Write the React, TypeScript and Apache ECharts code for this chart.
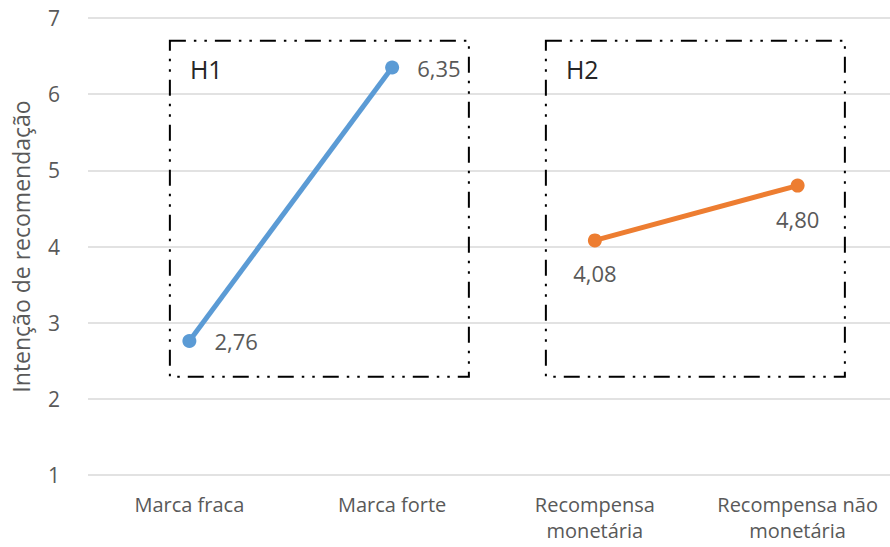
import React, { useEffect, useRef } from "react";
import * as echarts from "echarts";

const categories = ["Marca fraca", "Marca forte", "Recompensa\nmonetária", "Recompensa não\nmonetária"];
const h1Values = [2.76, 6.35, null, null];
const h2Values = [null, null, 4.08, 4.8];
const yTicks = { min: 1, max: 7, interval: 1 };
const axisTitle = "Intenção de recomendação";
const boxLabels = ["H1", "H2"];

const FONT = "'Open Sans', 'Noto Sans', sans-serif";
const GREY = "#595959";
const DASH = [16, 8, 2.5, 8, 2.5, 8];

export default function App() {
  const ref = useRef<HTMLDivElement>(null);
  useEffect(() => {
    const chart = echarts.init(ref.current!, null, { renderer: "svg" });
    const fmt = (p: any) => Number(p.value).toFixed(2).replace(".", ",");
    chart.setOption({
      animation: false,
      textStyle: { fontFamily: FONT },
      grid: { left: 88, top: 18, width: 811, height: 457, outerBoundsMode: "none", containLabel: false },
      xAxis: {
        type: "category",
        data: categories,
        boundaryGap: true,
        axisLine: { show: false },
        axisTick: { show: false },
        axisLabel: { color: GREY, fontSize: 20, fontFamily: FONT, margin: 16, lineHeight: 26, interval: 0 },
      },
      yAxis: {
        type: "value",
        min: yTicks.min,
        max: yTicks.max,
        interval: yTicks.interval,
        name: axisTitle,
        nameLocation: "middle",
        nameGap: 56,
        nameTextStyle: { color: GREY, fontSize: 23, fontFamily: FONT },
        axisLine: { show: false },
        axisTick: { show: false },
        axisLabel: { color: GREY, fontSize: 21, fontFamily: FONT, margin: 28 },
        splitLine: { lineStyle: { color: "#d9d9d9", width: 1.5 } },
      },
      series: [
        {
          type: "line",
          data: h1Values,
          connectNulls: false,
          symbol: "circle",
          symbolSize: 14,
          lineStyle: { color: "#5B9BD5", width: 5 },
          itemStyle: { color: "#5B9BD5" },
          label: { show: true, position: "right", distance: 18, color: GREY, fontSize: 22, fontFamily: FONT, formatter: fmt },
        },
        {
          type: "line",
          data: h2Values,
          connectNulls: false,
          symbol: "circle",
          symbolSize: 14,
          lineStyle: { color: "#ED7D31", width: 5 },
          itemStyle: { color: "#ED7D31" },
          label: { show: true, position: "bottom", distance: 15, color: GREY, fontSize: 22, fontFamily: FONT, formatter: fmt },
        },
      ],
    });
    const yTop = chart.convertToPixel({ yAxisIndex: 0 }, 6.7) as number;
    const yBot = chart.convertToPixel({ yAxisIndex: 0 }, 2.29) as number;
    const x0 = chart.convertToPixel({ xAxisIndex: 0 }, categories[0]) as number;
    const x2 = chart.convertToPixel({ xAxisIndex: 0 }, categories[2]) as number;
    const boxLefts = [x0 - 19.5, x2 - 49];
    chart.setOption({
      graphic: boxLefts.flatMap((bx, i) => [
        {
          type: "rect",
          shape: { x: bx, y: yTop, width: 299, height: yBot - yTop },
          style: { fill: "none", stroke: "#000", lineWidth: 2, lineDash: DASH },
          silent: true,
        },
        {
          type: "text",
          x: bx + 20,
          y: yTop + 16,
          style: { text: boxLabels[i], fill: "#262626", fontSize: 25, fontFamily: FONT },
          silent: true,
        },
      ]),
    });
    return () => chart.dispose();
  }, []);
  return <div ref={ref} style={{ width: 890, height: 547, position: "absolute", left: 0, top: 0 }} />;
}
